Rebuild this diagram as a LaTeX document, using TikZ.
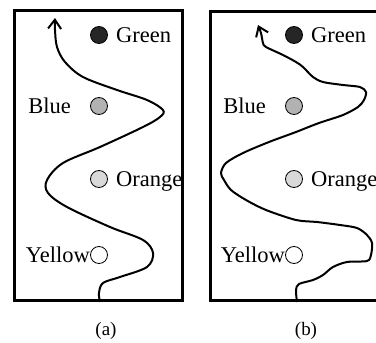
\documentclass[tikz,border=0pt]{standalone}
\usepackage{fontspec}
\setmainfont{Liberation Serif}
\usetikzlibrary{positioning,arrows.meta}

\begin{document}
\begin{tikzpicture}[
        x=1pt, y=-1pt,
        font=\fontsize{22.5}{24}\selectfont,
        dot/.style={circle, draw=black, line width=0.8pt, minimum size=17pt, inner sep=0pt},
        colour/.style={inner sep=0pt, text height=15pt, text depth=0pt},
        frame/.style={line width=2.8pt},
        route/.style={line width=2pt, -{Straight Barb[length=9pt,width=13pt]}},
        tag/.style={font=\fontsize{19}{21}\selectfont}
    ]
        \useasboundingbox (0,0) rectangle (376,343);

        % Panel (a)
        \draw[frame] (14.7,10.7) rectangle (182.5,300.5);
        \node (greenA) at (99,35) [dot,fill=black!85] {};
        \node (blueA) at (99,106) [dot,fill=black!30] {};
        \node (orangeA) at (99,179) [dot,fill=black!15] {};
        \node (yellowA) at (99,255) [dot,fill=white] {};
            \node (greenAtext) [right=8pt of greenA,colour] {Green};
            \node (blueAtext) [left=19pt of blueA,colour] {Blue};
            \node (orangeAtext) [right=8pt of orangeA,colour] {Orange};
            \node (yellowAtext) [left=0pt of yellowA,colour] {Yellow};
        \draw[route] plot[smooth,tension=0.55] coordinates {
            (100,302) (99,293) (103,283) (120,277) (147,267) (153,253) (143,240)
            (110,227) (67,207) (48,193) (47,180) (63,163) (100,147) (143,127)
            (160,117) (163,110) (147,100) (117,90) (83,77) (65,62) (57,47)
            (55,30) (55,18)};
        \node (capA) at (106,331) [tag] {(a)};

        % Panel (b)
        \draw[frame] (376,11.3) -| (210.8,300.5) -- (376,300.5);
        \node (greenB) at (294,35) [dot,fill=black!85] {};
        \node (blueB) at (294,106) [dot,fill=black!30] {};
        \node (orangeB) at (294,179) [dot,fill=black!15] {};
        \node (yellowB) at (294,255) [dot,fill=white] {};
            \node (greenBtext) [right=8pt of greenB,colour] {Green};
            \node (blueBtext) [left=19pt of blueB,colour] {Blue};
            \node (orangeBtext) [right=8pt of orangeB,colour] {Orange};
            \node (yellowBtext) [left=0pt of yellowB,colour] {Yellow};
        \draw[route] plot[smooth,tension=0.5] coordinates {
            (297,302) (296,290) (299,284) (313,280) (323,275) (333,267) (347,262)
            (367,261) (371,255) (372,243) (367,235) (357,228) (340,225) (317,222)
            (296,220) (266,210) (246,200) (231,190) (224,180) (221,173) (226,163)
            (243,153) (269,142) (296,132) (319,123) (343,115) (358,107) (364,100)
            (366,92) (360,87) (343,85) (323,82) (313,77) (303,67) (296,62)
            (283,55) (266,47) (263,43) (261,33) (258,25)};
        \node (capB) at (306,331) [tag] {(b)};
    \end{tikzpicture}
\end{document}
